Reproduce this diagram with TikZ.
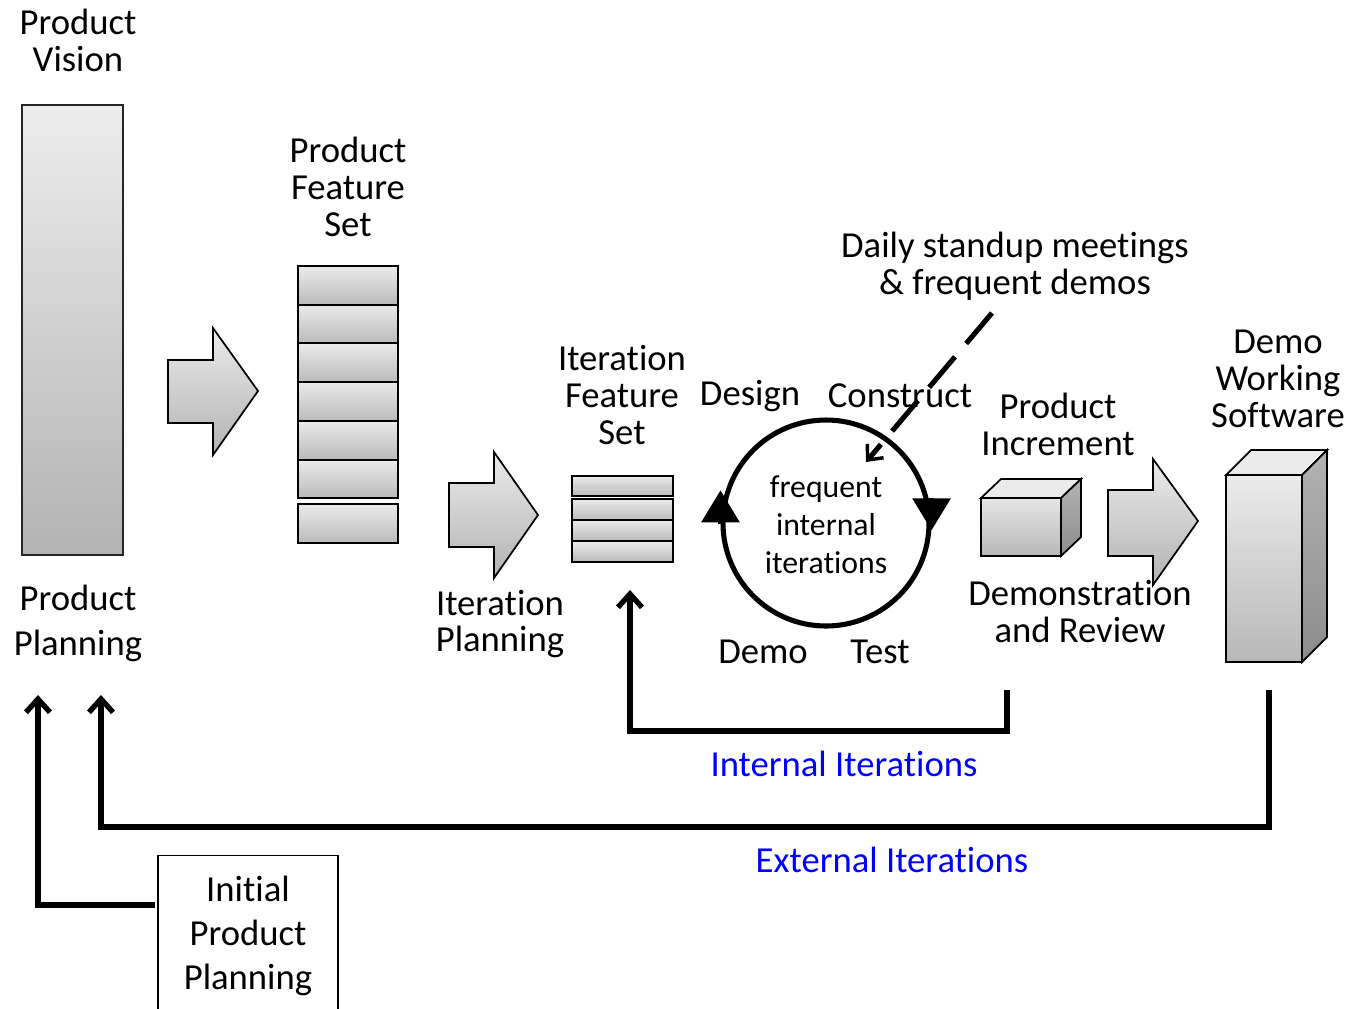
\documentclass[tikz,border=0pt]{standalone}
\usepackage{fontspec}
\setmainfont[RawFeature={-liga;-clig;-dlig;-calt}]{Carlito}
\usetikzlibrary{arrows.meta}

\begin{document}
\begin{tikzpicture}[
  x=0.75pt, y=-0.75pt,
  font=\fontsize{27.5pt}{27.75pt}\selectfont,
  txt/.style={align=center, inner sep=0pt},
  bluetxt/.style={txt, text=blue},
  bar/.style={rectangle, draw=black!85, line width=1.1pt, outer sep=0pt,
              top color=black!7, bottom color=black!30, inner sep=0pt},
  card/.style={rectangle, draw=black, line width=1.5pt, outer sep=0pt,
               top color=black!8, bottom color=black!27, inner sep=0pt},
  face/.style={draw=black, line width=1.3pt, fill=black!8},
  sideface/.style={draw=black, line width=1.3pt, top color=black!30, bottom color=black!45},
  barrow/.style={draw=black, line width=1.3pt, top color=black!8, bottom color=black!30},
  fb/.style={line width=4pt, -{Straight Barb[length=10pt, width=18pt]}},
  tri/.style={line width=3.8pt, -{Triangle[length=24pt, width=28pt]}},
  callout/.style={line width=3.8pt, dash pattern=on 30pt off 13pt,
                  -{Straight Barb[length=9pt, width=16pt, line width=2.6pt]}}
]
\useasboundingbox (0,0) rectangle (1353,1008);

% ---------------- product level ----------------
\node[txt] (vision) at (78,40) {Product\\Vision};
\node[bar, minimum width=101*0.75pt, minimum height=450*0.75pt] (pbar) at (72.5,330) {};
\node[txt, font=\fontsize{27.5pt}{33.75pt}\selectfont] (pplan) at (78,623) {Product\\Planning};

\draw[barrow] (168,360) -- (213,360) -- (213,328) -- (258,391) -- (213,455) -- (213,423) -- (168,423) -- cycle;

\node[txt] (pfs) at (348,187) {Product\\Feature\\Set};
\foreach \i in {0,...,5}
  \node[card, minimum width=100*0.75pt, minimum height=38.7*0.75pt, anchor=north]
    (feat\i) at (348,266+\i*38.7) {};
\node[card, minimum width=100*0.75pt, minimum height=39*0.75pt, anchor=north] (feat6) at (348,504) {};

% ---------------- iteration level ----------------
\draw[barrow] (449,483) -- (494,483) -- (494,452) -- (538,515) -- (494,578) -- (494,547) -- (449,547) -- cycle;
\node[txt, font=\fontsize{27.5pt}{27pt}\selectfont] (iplan) at (500,624) {Iteration\\Planning};

\node[txt] (ifs) at (622,395) {Iteration\\Feature\\Set};
\node[card, minimum width=101*0.75pt, minimum height=20*0.75pt, anchor=north] (it0) at (622.5,476) {};
\foreach \i in {1,2,3}
  \node[card, minimum width=101*0.75pt, minimum height=21*0.75pt, anchor=north]
    (it\i) at (622.5,478+\i*21) {};

% ---------------- inner cycle ----------------
\node[circle, draw, line width=3.8pt, minimum size=206*0.75pt, inner sep=0pt] (cycle) at (826,523) {};
\node[txt, font=\fontsize{23.8pt}{28.5pt}\selectfont] (inner) at (826,525) {frequent\\internal\\iterations};
\draw[tri] ([yshift=-1pt]cycle.west) -- ([yshift=24.5pt]cycle.west);
\draw[tri] ([yshift=19pt]cycle.east) -- ([yshift=-5.5pt]cycle.east);

\node[txt] (design) at (750,396) {Design};
\node[txt] (construct) at (900,396) {Construct};
\node[txt] (demo) at (763,652) {Demo};
\node[txt] (test) at (880,652) {Test};

\node[txt] (daily) at (1015,266) {Daily standup meetings\\\&\ frequent demos};
\coordinate (dstart) at (992,313);
\coordinate (dhit) at (866,462);
\draw[callout] (dstart) -- (dhit);

% ---------------- increment and release ----------------
\node[txt] (incr) at (1058,424) {Product\\Increment};
\node[rectangle, draw=black, line width=1.3pt, outer sep=0pt, inner sep=0pt,
      top color=black!10, bottom color=black!28,
      minimum width=80*0.75pt, minimum height=58*0.75pt] (cube) at (1021,527) {};
\draw[face] (cube.north west) -- ++(20,-19) -- ++(80,0) -- (cube.north east) -- cycle;
\draw[sideface] (cube.north east) -- ++(20,-19) -- ++(0,58) -- (cube.south east) -- cycle;
\node[txt] (review) at (1080,612) {Demonstration\\and Review};

\draw[barrow] (1108,490) -- (1153,490) -- (1153,459) -- (1198,521) -- (1153,585) -- (1153,556) -- (1108,556) -- cycle;

\node[txt] (dws) at (1278,379) {Demo\\Working\\Software};
\node[rectangle, draw=black, line width=1.3pt, outer sep=0pt, inner sep=0pt,
      top color=black!8, bottom color=black!28,
      minimum width=76*0.75pt, minimum height=187*0.75pt] (tower) at (1264,568.5) {};
\draw[face] (tower.north west) -- ++(25,-25) -- ++(76,0) -- (tower.north east) -- cycle;
\draw[sideface] (tower.north east) -- ++(25,-25) -- ++(0,187) -- (tower.south east) -- cycle;

% ---------------- feedback loops ----------------
\coordinate (intA) at (1007,690);
\coordinate (intB) at (630,590);
\draw[fb] (intA) -- ++(0,41) -| (intB);
\node[bluetxt] (intlbl) at (844,764) {Internal Iterations};

\coordinate (extA) at (1269,690);
\coordinate (extB) at (101,695);
\draw[fb] (extA) -- ++(0,137) -| (extB);
\node[bluetxt] (extlbl) at (892,860) {External Iterations};

\node[rectangle, draw=black, line width=0.9pt, anchor=north, align=center,
      font=\fontsize{27.5pt}{33pt}\selectfont,
      minimum width=180*0.75pt, minimum height=160*0.75pt] (init) at (248,855) {Initial\\Product\\Planning};
\coordinate (initB) at (38,695);
\draw[fb, shorten <=2pt] (init.west |- 0,905) -| (initB);
\end{tikzpicture}
\end{document}
